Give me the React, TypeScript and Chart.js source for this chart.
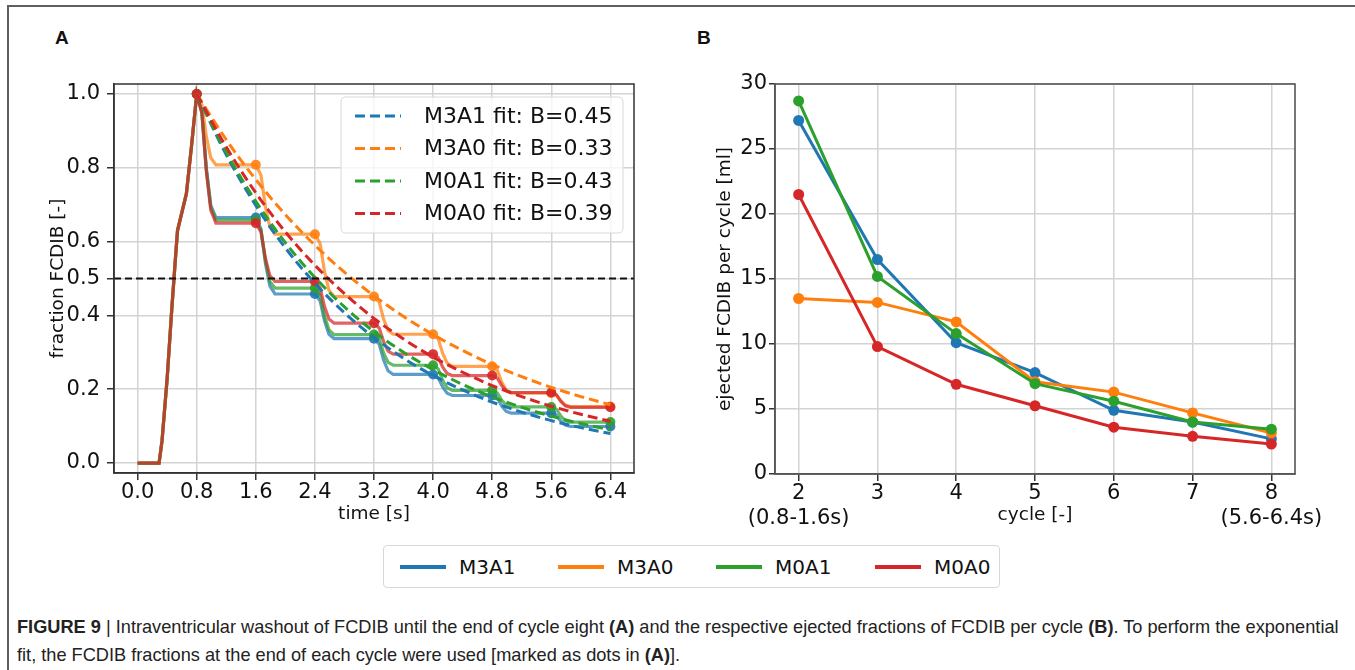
import React, { useEffect, useRef } from "react";
import { Chart, registerables } from "chart.js";

Chart.register(...registerables);

// ---------- shared ----------
const MODELS = ["M3A1", "M3A0", "M0A1", "M0A0"];
const COLORS = ["#1f77b4", "#ff7f0e", "#2ca02c", "#d62728"];
const FIT_B = ["0.45", "0.33", "0.43", "0.39"];

// ---------- panel A: washout ----------
const TIME = [
  0, 0.29, 0.33, 0.4, 0.46, 0.51, 0.54, 0.6, 0.66, 0.73, 0.8,
  0.87, 0.93, 0.99, 1.06, 1.6,
  1.67, 1.73, 1.79, 1.86, 2.4,
  2.47, 2.53, 2.59, 2.66, 3.2,
  3.27, 3.33, 3.39, 3.46, 4.0,
  4.07, 4.13, 4.19, 4.26, 4.8,
  4.87, 4.93, 4.99, 5.06, 5.6,
  5.67, 5.73, 5.79, 5.86, 6.4,
];
const M3A1_WASHOUT = [
  0, 0, 0.06, 0.23, 0.41, 0.55, 0.63, 0.68, 0.73, 0.86, 1.0,
  0.95, 0.799, 0.699, 0.665, 0.665,
  0.634, 0.541, 0.479, 0.458, 0.458,
  0.44, 0.385, 0.349, 0.337, 0.337,
  0.322, 0.279, 0.25, 0.24, 0.24,
  0.231, 0.206, 0.189, 0.183, 0.183,
  0.176, 0.154, 0.14, 0.135, 0.135,
  0.13, 0.113, 0.103, 0.099, 0.099,
];
const M3A0_WASHOUT = [
  0, 0, 0.06, 0.23, 0.41, 0.55, 0.63, 0.68, 0.73, 0.86, 1.0,
  0.971, 0.885, 0.827, 0.808, 0.808,
  0.78, 0.695, 0.639, 0.62, 0.62,
  0.595, 0.519, 0.468, 0.451, 0.451,
  0.436, 0.39, 0.359, 0.349, 0.349,
  0.336, 0.297, 0.271, 0.262, 0.262,
  0.251, 0.219, 0.197, 0.19, 0.19,
  0.184, 0.168, 0.157, 0.153, 0.153,
];
const M0A1_WASHOUT = [
  0, 0, 0.06, 0.23, 0.41, 0.55, 0.63, 0.68, 0.73, 0.86, 1.0,
  0.949, 0.795, 0.692, 0.658, 0.658,
  0.63, 0.548, 0.492, 0.474, 0.474,
  0.455, 0.398, 0.361, 0.348, 0.348,
  0.336, 0.298, 0.273, 0.265, 0.265,
  0.255, 0.224, 0.204, 0.197, 0.197,
  0.19, 0.17, 0.157, 0.152, 0.152,
  0.146, 0.127, 0.115, 0.111, 0.111,
];
const M0A0_WASHOUT = [
  0, 0, 0.06, 0.23, 0.41, 0.55, 0.63, 0.68, 0.73, 0.86, 1.0,
  0.948, 0.79, 0.685, 0.65, 0.65,
  0.626, 0.555, 0.508, 0.492, 0.492,
  0.475, 0.424, 0.39, 0.379, 0.379,
  0.366, 0.329, 0.303, 0.295, 0.295,
  0.286, 0.26, 0.243, 0.237, 0.237,
  0.23, 0.209, 0.196, 0.191, 0.191,
  0.185, 0.167, 0.155, 0.151, 0.151,
];
const CYCLE_END_TIMES = [0.8, 1.6, 2.4, 3.2, 4.0, 4.8, 5.6, 6.4];

const FIT_TIME = [0.8, 1.2, 1.6, 2.0, 2.4, 2.8, 3.2, 3.6, 4.0, 4.4, 4.8, 5.2, 5.6, 6.0, 6.4];
const M3A1_FIT = [1.0, 0.835, 0.698, 0.583, 0.487, 0.407, 0.34, 0.284, 0.237, 0.198, 0.165, 0.138, 0.115, 0.096, 0.08];
const M3A0_FIT = [1.0, 0.876, 0.768, 0.673, 0.59, 0.517, 0.453, 0.397, 0.348, 0.305, 0.267, 0.234, 0.205, 0.18, 0.158];
const M0A1_FIT = [1.0, 0.842, 0.709, 0.597, 0.503, 0.423, 0.356, 0.3, 0.253, 0.213, 0.179, 0.151, 0.127, 0.107, 0.09];
const M0A0_FIT = [1.0, 0.856, 0.732, 0.626, 0.536, 0.459, 0.392, 0.336, 0.287, 0.246, 0.21, 0.18, 0.154, 0.132, 0.113];

const HALF_LEVEL = 0.5;
const X_MIN_A = -0.32;
const X_MAX_A = 6.72;
const Y_MIN_A = -0.027;
const Y_MAX_A = 1.027;
const X_TICKS_A = [0, 0.8, 1.6, 2.4, 3.2, 4.0, 4.8, 5.6, 6.4];
const Y_TICKS_A = [0, 0.2, 0.4, 0.5, 0.6, 0.8, 1.0];

// ---------- panel B: ejected per cycle ----------
const CYCLES = [2, 3, 4, 5, 6, 7, 8];
const CYCLE_NOTES: Record<number, string> = { 2: "(0.8-1.6s)", 8: "(5.6-6.4s)" };
const M3A1_EJECTED = [27.2, 16.5, 10.1, 7.8, 4.9, 4.0, 2.7];
const M3A0_EJECTED = [13.5, 13.2, 11.7, 7.1, 6.3, 4.7, 3.15];
const M0A1_EJECTED = [28.7, 15.2, 10.8, 6.95, 5.6, 4.0, 3.45];
const M0A0_EJECTED = [21.5, 9.8, 6.9, 5.25, 3.6, 2.9, 2.3];
const X_MIN_B = 1.7;
const X_MAX_B = 8.3;
const Y_MIN_B = 0;
const Y_MAX_B = 30;

// ---------- helpers ----------
const FONT = "'DejaVu Sans', sans-serif";

function rgba(hex: string, a: number) {
  const n = parseInt(hex.slice(1), 16);
  return `rgba(${(n >> 16) & 255},${(n >> 8) & 255},${n & 255},${a})`;
}
function xy(xs: number[], ys: number[]) {
  return xs.map((x, i) => ({ x, y: ys[i] }));
}

const framePlugin = {
  id: "frame",
  afterDatasetsDraw(chart: any, _args: any, opts: any) {
    const { ctx, chartArea: a } = chart;
    ctx.save();
    ctx.strokeStyle = opts.color || "#333";
    ctx.lineWidth = opts.width || 1.5;
    ctx.strokeRect(a.left, a.top, a.right - a.left, a.bottom - a.top);
    ctx.restore();
  },
};

const fitLegendPlugin = {
  id: "fitLegend",
  afterDatasetsDraw(chart: any, _args: any, opts: any) {
    const items = opts.items as { label: string; color: string }[];
    if (!items) return;
    const { ctx, chartArea: a } = chart;
    const w = 282;
    const h = 136;
    const right = a.right - 11;
    const top = a.top + 13;
    const left = right - w;
    ctx.save();
    ctx.beginPath();
    const r = 5;
    ctx.moveTo(left + r, top);
    ctx.lineTo(left + w - r, top);
    ctx.quadraticCurveTo(left + w, top, left + w, top + r);
    ctx.lineTo(left + w, top + h - r);
    ctx.quadraticCurveTo(left + w, top + h, left + w - r, top + h);
    ctx.lineTo(left + r, top + h);
    ctx.quadraticCurveTo(left, top + h, left, top + h - r);
    ctx.lineTo(left, top + r);
    ctx.quadraticCurveTo(left, top, left + r, top);
    ctx.closePath();
    ctx.fillStyle = "rgba(255,255,255,0.8)";
    ctx.fill();
    ctx.strokeStyle = "#d8d8d8";
    ctx.lineWidth = 1;
    ctx.stroke();
    items.forEach((it, i) => {
      const y = top + 19 + i * 32.5;
      ctx.setLineDash([10, 5]);
      ctx.strokeStyle = it.color;
      ctx.lineWidth = 3;
      ctx.beginPath();
      ctx.moveTo(left + 14, y);
      ctx.lineTo(left + 60, y);
      ctx.stroke();
      ctx.setLineDash([]);
      ctx.fillStyle = "#111";
      ctx.font = `22px ${FONT}`;
      ctx.textBaseline = "middle";
      ctx.textAlign = "left";
      ctx.fillText(it.label, left + 83, y + 1);
    });
    ctx.restore();
  },
};

const gridCommon = {
  color: "#d3d3d3",
  lineWidth: 1.5,
  tickColor: "#333",
  tickLength: 7,
  drawTicks: true,
};

export default function App() {
  const refA = useRef<HTMLCanvasElement>(null);
  const refB = useRef<HTMLCanvasElement>(null);

  useEffect(() => {
    const washouts = [M3A1_WASHOUT, M3A0_WASHOUT, M0A1_WASHOUT, M0A0_WASHOUT];
    const fits = [M3A1_FIT, M3A0_FIT, M0A1_FIT, M0A0_FIT];
    const ejected = [M3A1_EJECTED, M3A0_EJECTED, M0A1_EJECTED, M0A0_EJECTED];
    const solidOrder = [13, 12, 11, 10];
    const fitOrder = [5, 4, 3, 2];

    const chartA = new Chart(refA.current as HTMLCanvasElement, {
      type: "line",
      data: {
        datasets: [
          ...MODELS.map((m, i) => ({
            label: m,
            data: xy(TIME, washouts[i]),
            borderColor: rgba(COLORS[i], 0.72),
            backgroundColor: COLORS[i],
            borderWidth: 3.2,
            tension: 0,
            pointRadius: (c: any) =>
              c.dataIndex !== undefined && CYCLE_END_TIMES.includes(TIME[c.dataIndex]) ? 5 : 0,
            pointBackgroundColor: rgba(COLORS[i], 0.9),
            pointBorderWidth: 0,
            order: solidOrder[i],
          })),
          ...MODELS.map((m, i) => ({
            label: `${m} fit: B=${FIT_B[i]}`,
            data: xy(FIT_TIME, fits[i]),
            borderColor: COLORS[i],
            borderWidth: 3,
            borderDash: [10, 5],
            cubicInterpolationMode: "monotone" as const,
            pointRadius: 0,
            order: fitOrder[i],
          })),
          {
            label: "half",
            data: [
              { x: X_MIN_A, y: HALF_LEVEL },
              { x: X_MAX_A, y: HALF_LEVEL },
            ],
            borderColor: "#111",
            borderWidth: 2,
            borderDash: [7, 4],
            pointRadius: 0,
            order: 0,
          },
        ],
      },
      options: {
        animation: false,
        responsive: false,
        devicePixelRatio: 1,
        events: [],
        layout: { padding: { top: 24, right: 26, left: 0, bottom: 0 } },
        plugins: {
          legend: { display: false },
          tooltip: { enabled: false },
          frame: { color: "#333", width: 1.5 },
          fitLegend: {
            items: MODELS.map((m, i) => ({ label: `${m} fit: B=${FIT_B[i]}`, color: COLORS[i] })),
          },
        } as any,
        scales: {
          x: {
            type: "linear",
            min: X_MIN_A,
            max: X_MAX_A,
            afterBuildTicks: (s: any) => {
              s.ticks = X_TICKS_A.map((v) => ({ value: v }));
            },
            afterFit: (s: any) => {
              s.height = 57;
            },
            ticks: {
              autoSkip: false,
              maxRotation: 0,
              padding: 0,
              color: "#111",
              font: { family: FONT, size: 21 },
              callback: (v: any) => Number(v).toFixed(1),
            },
            grid: gridCommon,
            border: { display: true, color: "#333", width: 1.5 },
            title: {
              display: true,
              text: "time [s]",
              color: "#111",
              font: { family: FONT, size: 18.5 },
              padding: { top: 0, bottom: 5 },
            },
          },
          y: {
            type: "linear",
            min: Y_MIN_A,
            max: Y_MAX_A,
            afterBuildTicks: (s: any) => {
              s.ticks = Y_TICKS_A.map((v) => ({ value: v }));
            },
            afterFit: (s: any) => {
              s.width = 114;
            },
            ticks: {
              autoSkip: false,
              padding: 7,
              color: "#111",
              font: { family: FONT, size: 21 },
              callback: (v: any) => Number(v).toFixed(1),
            },
            grid: gridCommon,
            border: { display: true, color: "#333", width: 1.5 },
            title: {
              display: true,
              text: "fraction FCDIB [-]",
              color: "#111",
              font: { family: FONT, size: 18.5 },
              padding: { top: 47, bottom: 0 },
            },
          },
        },
      },
      plugins: [framePlugin, fitLegendPlugin],
    } as any);

    const chartB = new Chart(refB.current as HTMLCanvasElement, {
      type: "line",
      data: {
        datasets: MODELS.map((m, i) => ({
          label: m,
          data: xy(CYCLES, ejected[i]),
          borderColor: COLORS[i],
          backgroundColor: COLORS[i],
          borderWidth: 3,
          tension: 0,
          pointRadius: 5.5,
          pointBackgroundColor: COLORS[i],
          pointBorderWidth: 0,
          order: solidOrder[i],
        })),
      },
      options: {
        animation: false,
        responsive: false,
        devicePixelRatio: 1,
        events: [],
        layout: { padding: { top: 24, right: 45, left: 0, bottom: 0 } },
        plugins: {
          legend: { display: false },
          tooltip: { enabled: false },
          frame: { color: "#555", width: 1.6 },
        } as any,
        scales: {
          x: {
            type: "linear",
            min: X_MIN_B,
            max: X_MAX_B,
            afterBuildTicks: (s: any) => {
              s.ticks = CYCLES.map((v) => ({ value: v }));
            },
            afterFit: (s: any) => {
              s.height = 61;
            },
            ticks: {
              autoSkip: false,
              maxRotation: 0,
              padding: 0,
              color: "#111",
              font: { family: FONT, size: 21 },
              callback: (v: any) => (CYCLE_NOTES[v] ? [String(v), CYCLE_NOTES[v]] : String(v)),
            },
            grid: gridCommon,
            border: { display: true, color: "#555", width: 1.6 },
            title: {
              display: true,
              text: "cycle [-]",
              color: "#111",
              font: { family: FONT, size: 18.5 },
              padding: { top: 0, bottom: 9 },
            },
          },
          y: {
            type: "linear",
            min: Y_MIN_B,
            max: Y_MAX_B,
            ticks: {
              stepSize: 5,
              padding: 2,
              color: "#111",
              font: { family: FONT, size: 21 },
            },
            afterFit: (s: any) => {
              s.width = 95;
            },
            grid: { ...gridCommon, tickLength: 6 },
            border: { display: true, color: "#555", width: 1.6 },
            title: {
              display: true,
              text: "ejected FCDIB per cycle [ml]",
              color: "#111",
              font: { family: FONT, size: 18.5 },
              padding: { top: 34, bottom: 0 },
            },
          },
        },
      },
      plugins: [framePlugin],
    } as any);

    return () => {
      chartA.destroy();
      chartB.destroy();
    };
  }, []);

  const legendItemsX = [400, 558, 716, 875];

  return (
    <div
      style={{
        position: "absolute",
        left: 0,
        top: 0,
        width: 1355,
        height: 670,
        overflow: "hidden",
        background: "#fff",
        fontFamily: FONT,
      }}
    >
      <div
        style={{
          position: "absolute",
          left: 7,
          top: 5,
          width: 1360,
          height: 700,
          borderTop: "2px solid #5f5f5f",
          borderLeft: "2px solid #5f5f5f",
        }}
      />
      <div
        style={{
          position: "absolute",
          left: 55,
          top: 27,
          fontFamily: "'Liberation Sans', Arial, sans-serif",
          fontWeight: "bold",
          fontSize: 19,
          color: "#111",
        }}
      >
        A
      </div>
      <div
        style={{
          position: "absolute",
          left: 697,
          top: 27,
          fontFamily: "'Liberation Sans', Arial, sans-serif",
          fontWeight: "bold",
          fontSize: 19,
          color: "#111",
        }}
      >
        B
      </div>
      <canvas
        ref={refA}
        width={660}
        height={470}
        style={{ position: "absolute", left: 0, top: 60 }}
      />
      <canvas
        ref={refB}
        width={660}
        height={475}
        style={{ position: "absolute", left: 680, top: 60 }}
      />
      <div
        style={{
          position: "absolute",
          left: 383,
          top: 545,
          width: 617,
          height: 43,
          boxSizing: "border-box",
          border: "1px solid #d8d8d8",
          borderRadius: 4,
        }}
      />
      {MODELS.map((m, i) => (
        <React.Fragment key={m}>
          <div
            style={{
              position: "absolute",
              left: legendItemsX[i],
              top: 565,
              width: 46,
              height: 4,
              background: COLORS[i],
            }}
          />
          <div
            style={{
              position: "absolute",
              left: legendItemsX[i] + 59,
              top: 554,
              fontSize: 20,
              lineHeight: "26px",
              color: "#111",
              whiteSpace: "nowrap",
            }}
          >
            {m}
          </div>
        </React.Fragment>
      ))}
      <div
        style={{
          position: "absolute",
          left: 17,
          top: 613,
          fontFamily: "'Liberation Sans', Arial, sans-serif",
          fontSize: 18.2,
          lineHeight: "28px",
          color: "#222",
          whiteSpace: "nowrap",
        }}
      >
        <b>FIGURE 9</b> | Intraventricular washout of FCDIB until the end of cycle eight <b>(A)</b> and the
        respective ejected fractions of FCDIB per cycle <b>(B)</b>. To perform the exponential
        <br />
        fit, the FCDIB fractions at the end of each cycle were used [marked as dots in <b>(A)</b>].
      </div>
    </div>
  );
}
